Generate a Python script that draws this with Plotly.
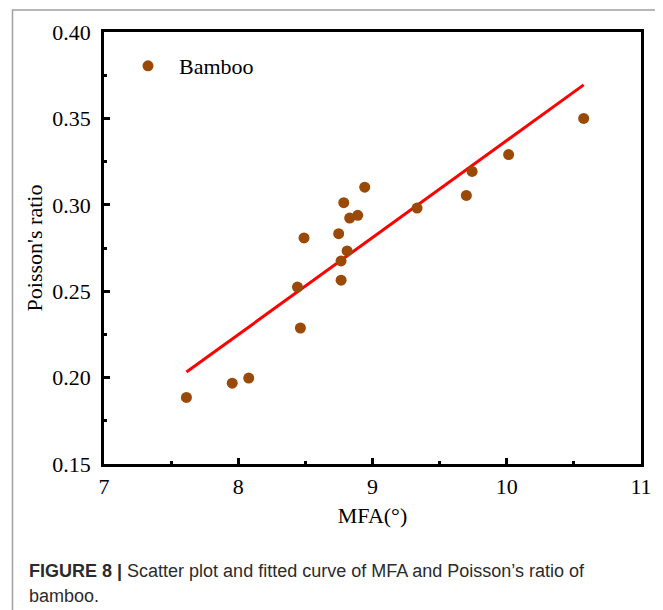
import plotly.graph_objects as go

# Data
mfa = [7.614, 7.955, 8.078, 8.441, 8.463, 8.490, 8.748, 8.766, 8.766, 8.786,
       8.811, 8.830, 8.890, 8.942, 9.332, 9.699, 9.742, 10.014, 10.573]
poisson = [0.1885, 0.1968, 0.1997, 0.2524, 0.2287, 0.2808, 0.2833, 0.2675, 0.2564, 0.3012,
           0.2733, 0.2923, 0.2939, 0.3102, 0.2981, 0.3054, 0.3193, 0.3291, 0.3500]
fit_x = [7.614, 10.573]
fit_y = [0.2032, 0.3694]

x_ticks = [7, 8, 9, 10, 11]
y_ticks = [0.15, 0.20, 0.25, 0.30, 0.35, 0.40]
y_labels = ["0.15", "0.20", "0.25", "0.30", "0.35", "0.40"]

# page body has an 8px margin; work in reference-pixel coordinates and offset
OFF = 8
W, H = 663 - OFF, 610 - OFF
L, R, T, B = 104 - OFF, 22, 32 - OFF, 146
pw, ph = W - L - R, H - T - B

def px_x(p):
    return (p - OFF - L) / pw

def px_y(p):
    return (H - B - (p - OFF)) / ph

serif = "Liberation Serif, Times New Roman, serif"
sans = "Liberation Sans, Arial, sans-serif"

fig = go.Figure()
fig.add_trace(go.Scatter(
    x=fit_x, y=fit_y, mode="lines",
    line=dict(color="#ff0000", width=3),
    showlegend=False, hoverinfo="skip"))
fig.add_trace(go.Scatter(
    x=mfa, y=poisson, mode="markers", name="Bamboo",
    marker=dict(color="#9a4a06", size=11, line=dict(width=0))))

axis_common = dict(
    showline=True, linecolor="black", linewidth=2.5, mirror=True,
    ticks="inside", ticklen=6, tickwidth=2.5, tickcolor="black",
    showgrid=False, zeroline=False,
    tickfont=dict(family=serif, size=22, color="black"),
)

fig.update_xaxes(
    range=[7, 11], tickvals=x_ticks, ticktext=[str(v) for v in x_ticks],
    minor=dict(ticks="inside", dtick=0.5, ticklen=3, tickwidth=2.5, tickcolor="black", showgrid=False),
    title=dict(text="MFA(°)", font=dict(family=serif, size=22, color="black"), standoff=10),
    ticklabelstandoff=1,
    **axis_common)
fig.update_yaxes(
    range=[0.15, 0.40], tickvals=y_ticks, ticktext=y_labels,
    minor=dict(ticks="inside", dtick=0.025, ticklen=3, tickwidth=2.5, tickcolor="black", showgrid=False),
    title=dict(text="Poisson's ratio", font=dict(family=serif, size=22, color="black"), standoff=4),
    ticklabelstandoff=6,
    **axis_common)

fig.update_layout(
    width=W, height=H,
    margin=dict(l=L, r=R, t=T, b=B, autoexpand=False),
    paper_bgcolor="white", plot_bgcolor="white",
    showlegend=True,
    legend=dict(x=px_x(117), y=px_y(66), xanchor="left", yanchor="middle",
                bgcolor="rgba(0,0,0,0)", borderwidth=0, itemwidth=52,
                font=dict(family=serif, size=22, color="black")),
    shapes=[dict(type="rect", xref="paper", yref="paper",
                 x0=px_x(12.5), x1=px_x(661), y0=px_y(640), y1=px_y(10),
                 line=dict(color="#a0a0a0", width=1.5), fillcolor="rgba(0,0,0,0)", layer="below")],
    annotations=[
        dict(xref="paper", yref="paper", x=px_x(27), y=px_y(571), xanchor="left", yanchor="middle",
             showarrow=False, align="left",
             text="<b>FIGURE 8 |</b> Scatter plot and fitted curve of MFA and Poisson\u2019s ratio of",
             font=dict(family=sans, size=18, color="#2b2b2b")),
        dict(xref="paper", yref="paper", x=px_x(27), y=px_y(596), xanchor="left", yanchor="middle",
             showarrow=False, align="left", text="bamboo.",
             font=dict(family=sans, size=18, color="#2b2b2b")),
    ],
)

fig.write_html("out.html")
